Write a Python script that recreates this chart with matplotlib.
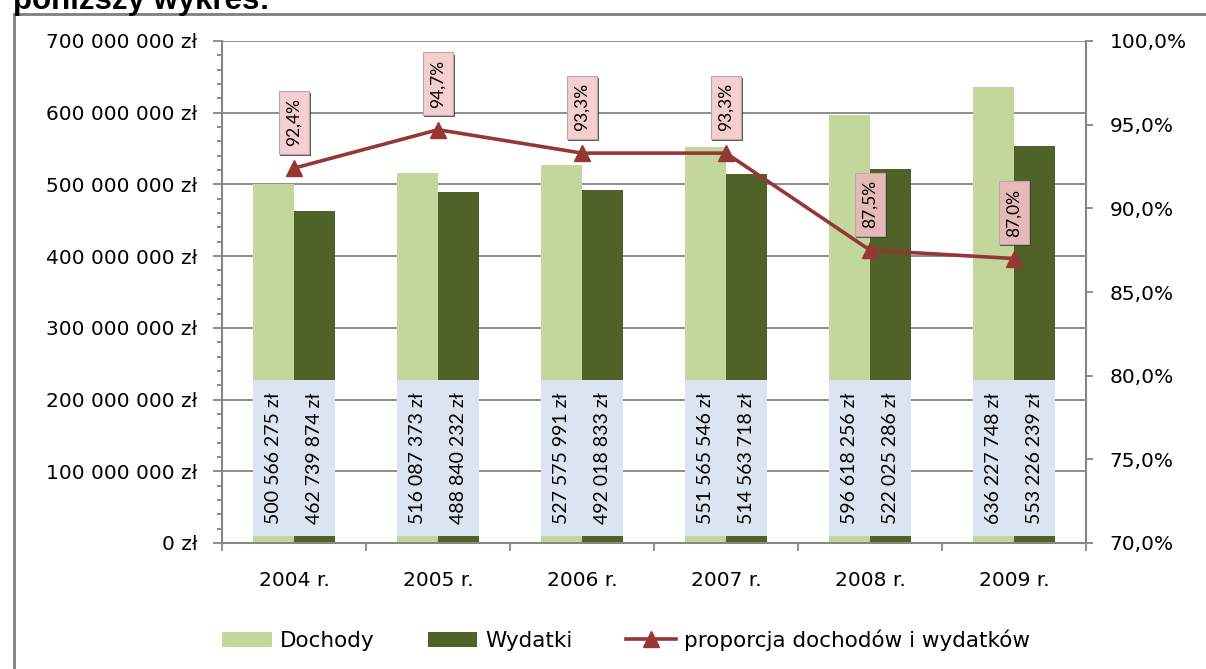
import matplotlib
matplotlib.use("Agg")
import matplotlib.pyplot as plt
from matplotlib.lines import Line2D
from matplotlib.patches import Rectangle
import matplotlib.patheffects as pe
from matplotlib.ticker import FuncFormatter, MultipleLocator

# ---- data ----
years = ["2004 r.", "2005 r.", "2006 r.", "2007 r.", "2008 r.", "2009 r."]
dochody = [500566275, 516087373, 527575991, 551565546, 596618256, 636227748]
wydatki = [462739874, 488840232, 492018833, 514563718, 522025286, 553226239]
proporcja = [92.4, 94.7, 93.3, 93.3, 87.5, 87.0]
series_names = ["Dochody", "Wydatki", "proporcja dochodów i wydatków"]
left_ticks = [0, 100e6, 200e6, 300e6, 400e6, 500e6, 600e6, 700e6]
right_ticks = [70, 75, 80, 85, 90, 95, 100]

# ---- style ----
C_DOCH = "#C3D69B"
C_WYD = "#4F6228"
C_LINE = "#953735"
C_BLUE = "#DBE5F1"
PINK = ["#F5CFCF", "#F5CFCF", "#F5CFCF", "#F5CFCF", "#E6B9B8", "#E6B9B8"]
GRAY = "#868686"
LABEL_FONT = ["Lato", "DejaVu Sans"]

plt.rcParams["font.family"] = ["DejaVu Sans"]

W, H = 1206, 669
fig = plt.figure(figsize=(W / 100, H / 100), dpi=100)
ax = fig.add_axes([222 / W, 1 - 543 / H, (1086 - 222) / W, (543 - 41) / H])

x = list(range(len(years)))
bw = 0.285
xd = [i - bw / 2 for i in x]
xw = [i + bw / 2 for i in x]
ax.bar(xd, dochody, width=bw, color=C_DOCH, label=series_names[0], zorder=2)
ax.bar(xw, wydatki, width=bw, color=C_WYD, label=series_names[1], zorder=2)

# data labels at base, in light blue boxes
lab_lo, lab_hi = 10e6, 227e6
def fmt_zl(v):
    return f"{int(round(v)):,}".replace(",", " ") + " zł"
for xs, vals in ((xd, dochody), (xw, wydatki)):
    for xi, v in zip(xs, vals):
        ax.add_patch(Rectangle((xi - bw / 2, lab_lo), bw, lab_hi - lab_lo,
                               facecolor=C_BLUE, edgecolor="none", zorder=3))
        ax.text(xi, (lab_lo + lab_hi) / 2, fmt_zl(v), rotation=90,
                ha="center", va="center", fontsize=14, family=LABEL_FONT,
                zorder=4)

ax.set_xlim(-0.5, len(years) - 0.5)
ax.set_ylim(0, 700e6)
ax.set_yticks(left_ticks)
ax.yaxis.set_minor_locator(MultipleLocator(20e6))
ax.yaxis.set_major_formatter(FuncFormatter(lambda v, p: fmt_zl(v)))
ax.tick_params(axis="y", which="major", length=6.5, width=1.3, color=GRAY,
               labelsize=14.5, pad=11)
ax.tick_params(axis="y", which="minor", length=3.5, width=1.3, color=GRAY)
ax.grid(axis="y", which="major", color=GRAY, linewidth=1.3)
ax.set_axisbelow(True)

# category ticks at boundaries, labels at centers
ax.set_xticks([i - 0.5 for i in range(len(years) + 1)])
ax.set_xticklabels([])
ax.set_xticks(x, minor=True)
ax.set_xticklabels(years, minor=True)
ax.tick_params(axis="x", which="major", length=6, width=1.3, color=GRAY)
ax.tick_params(axis="x", which="minor", length=0, labelsize=14.5, pad=20)

for s in ("top", "right"):
    ax.spines[s].set_visible(False)
for s in ("left", "bottom"):
    ax.spines[s].set_color(GRAY)
    ax.spines[s].set_linewidth(1.5)

# secondary axis: ratio
ax2 = ax.twinx()
ax2.plot(x, proporcja, color=C_LINE, linewidth=2.6, marker="^",
         markersize=11.5, label=series_names[2], zorder=5)
ax2.set_ylim(70, 100)
ax2.set_yticks(right_ticks)
ax2.yaxis.set_major_formatter(
    FuncFormatter(lambda v, p: f"{v:.1f}".replace(".", ",") + "%"))
ax2.tick_params(axis="y", length=5, width=1.3, color=GRAY, labelsize=14.5,
                pad=12)
for s in ("top", "left", "bottom"):
    ax2.spines[s].set_visible(False)
ax2.spines["right"].set_color(GRAY)
ax2.spines["right"].set_linewidth(1.5)

for xi, v, pc in zip(x, proporcja, PINK):
    t = ax2.annotate(f"{v:.1f}".replace(".", ",") + "%", (xi, v),
                     xytext=(0, 33), textcoords="offset points",
                     rotation=90, ha="center", va="center", fontsize=12.5,
                     family=LABEL_FONT,
                     bbox=dict(boxstyle="square,pad=0.42", facecolor=pc,
                               edgecolor="#B8A8A8", linewidth=0.8),
                     zorder=6)
    t.get_bbox_patch().set_path_effects(
        [pe.SimplePatchShadow(offset=(1, -1.5), shadow_rgbFace="#303030",
                              alpha=0.8),
         pe.Normal()])

# legend
h1, l1 = ax.get_legend_handles_labels()
h2, l2 = ax2.get_legend_handles_labels()
fig.legend(h1 + h2, l1 + l2, loc="center", bbox_to_anchor=(626 / W, 1 - 640 / H),
           ncol=3, frameon=False, fontsize=15.5, handlelength=2.3,
           handletextpad=0.37, columnspacing=2.5)

# frame and heading
fig.add_artist(Line2D([14 / W, 14 / W], [0, 1 - 14 / H], color="#7F7F7F",
                      linewidth=2, transform=fig.transFigure))
fig.add_artist(Line2D([14 / W, 1], [1 - 14 / H, 1 - 14 / H], color="#7F7F7F",
                      linewidth=2, transform=fig.transFigure))
fig.text(13 / W, 1 - 9 / H, "poniższy wykres:", fontsize=22.5,
         fontweight="bold", family=["Liberation Sans", "DejaVu Sans"],
         ha="left", va="baseline")

fig.savefig("out.png", dpi=100)
